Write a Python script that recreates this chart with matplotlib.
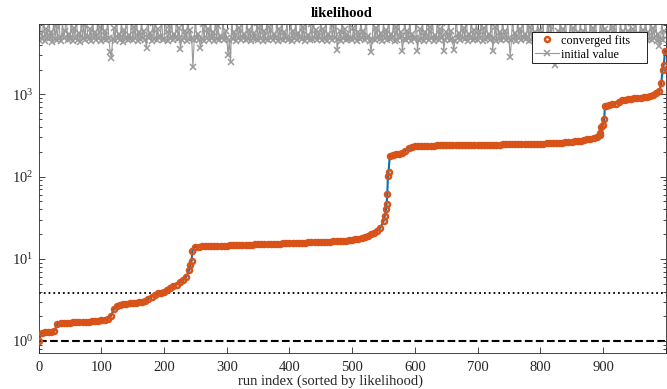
import numpy as np
import matplotlib
matplotlib.use("Agg")
import matplotlib.pyplot as plt
import matplotlib.ticker as ticker
from matplotlib.patches import Rectangle

plt.rcParams["font.family"] = ["Liberation Serif", "DejaVu Serif"]
plt.rcParams["mathtext.fontset"] = "custom"
plt.rcParams["mathtext.rm"] = "Liberation Serif"
plt.rcParams["mathtext.it"] = "Liberation Serif:italic"
plt.rcParams["mathtext.bf"] = "Liberation Serif:bold"

# converged likelihood, read every 5th sorted run, plus extra runs in the jumps
conv_grid_idx = list(range(0, 1000, 5))
converged_grid = [
    1.00, 1.25, 1.27, 1.28, 1.29, 1.32, 1.62, 1.64, 1.65, 1.66,
    1.67, 1.68, 1.69, 1.70, 1.70, 1.71, 1.72, 1.73, 1.75, 1.77,
    1.79, 1.80, 1.84, 2.00, 2.45, 2.65, 2.72, 2.78, 2.83, 2.87,
    2.90, 2.93, 2.96, 3.00, 3.10, 3.25, 3.45, 3.65, 3.80, 3.88,
    3.98, 4.20, 4.45, 4.65, 4.85, 5.20, 5.50, 6.00, 7.30, 12.5,
    14.0, 14.1, 14.15, 14.2, 14.25, 14.3, 14.35, 14.4, 14.45, 14.5,
    14.5, 14.55, 14.6, 14.65, 14.7, 14.75, 14.8, 14.85, 14.9, 14.95,
    15.0, 15.05, 15.1, 15.15, 15.2, 15.25, 15.3, 15.35, 15.4, 15.45,
    15.5, 15.55, 15.6, 15.65, 15.7, 15.75, 15.8, 15.85, 15.9, 15.95,
    16.0, 16.05, 16.1, 16.2, 16.3, 16.4, 16.5, 16.6, 16.7, 16.8,
    16.9, 17.2, 17.6, 18.0, 18.5, 19.0, 19.8, 20.6, 22.0, 24.0,
    28.5, 47.0, 178, 183, 187, 190, 195, 205, 220, 230,
    234, 236, 237, 238, 238, 239, 239, 240, 240, 240,
    241, 241, 241, 242, 242, 242, 243, 243, 243, 244,
    244, 244, 245, 245, 245, 246, 246, 246, 247, 247,
    248, 248, 248, 249, 249, 249, 250, 250, 251, 251,
    252, 253, 254, 255, 256, 257, 258, 259, 261, 263,
    266, 269, 272, 275, 279, 284, 290, 296, 305, 325,
    430, 725, 740, 755, 775, 810, 845, 865, 875, 885,
    893, 900, 908, 920, 935, 955, 985, 1030, 1090, 1990,
]
extra_idx = [242, 244, 552, 554, 556, 557, 558, 896, 897, 902, 903, 993, 997, 999]
extra_val = [8.3, 9.5, 33.0, 40.0, 62.0, 101, 115, 339, 406, 498, 716, 1380, 2300, 3400]

# initial likelihood (in thousands), every 2nd run
init_idx = list(range(0, 1000, 2))
initial_k = [
    4.6, 8.0, 5.5, 4.7, 9.5, 4.5, 6.2, 4.8, 11.0, 4.9, 5.8, 4.4, 8.6, 4.7, 6.8, 4.6, 9.2, 5.0, 4.5, 7.6, 4.8, 6.0, 10.2, 4.6, 5.4,
    4.7, 8.8, 4.5, 6.5, 4.9, 9.8, 4.6, 5.6, 4.4, 8.3, 4.8, 7.0, 4.6, 10.5, 5.1, 4.7, 6.3, 4.5, 9.0, 4.8, 5.7, 4.6, 8.1, 4.9, 6.6,
    4.5, 9.6, 4.7, 5.9, 4.6, 8.4, 4.8, 3.3, 2.8, 4.7, 6.4, 4.5, 9.3, 4.9, 5.5, 4.6, 7.8, 4.4, 6.1, 4.8, 10.8, 4.6, 5.3, 4.7, 8.9,
    4.6, 6.7, 4.8, 9.1, 4.5, 5.8, 4.7, 8.2, 4.9, 6.0, 4.6, 3.7, 11.5, 4.8, 5.6, 4.5, 7.4, 4.7, 9.9, 4.6, 6.2, 4.8, 5.1, 8.7, 4.6,
    4.7, 9.4, 5.7, 4.5, 6.9, 4.8, 8.5, 4.6, 5.4, 4.9, 10.1, 4.7, 6.4, 3.6, 4.6, 8.0, 4.8, 5.9, 4.5, 9.7, 4.7, 6.1, 4.9, 2.15, 4.6,
    8.8, 4.8, 5.5, 4.6, 3.7, 4.7, 7.2, 4.5, 10.6, 4.9, 6.3, 4.6, 8.4, 4.8, 5.7, 4.5, 9.2, 4.7, 6.8, 4.6, 5.2, 4.9, 8.6, 4.6, 6.0,
    4.8, 3.0, 4.6, 2.5, 9.0, 4.7, 5.8, 4.5, 7.9, 4.9, 6.5, 4.6, 11.2, 4.8, 5.4, 4.6, 8.3, 4.7, 6.1, 4.5, 9.6, 4.9, 5.6, 4.7, 7.5,
    4.6, 6.4, 4.8, 9.4, 4.5, 5.9, 4.7, 8.1, 4.6, 6.7, 4.9, 10.3, 4.6, 5.5, 4.8, 8.7, 4.5, 6.2, 4.7, 9.1, 4.6, 5.8, 4.9, 7.7, 4.6,
    4.7, 9.8, 4.5, 6.0, 4.8, 8.4, 4.6, 5.6, 4.9, 11.0, 4.7, 6.6, 4.5, 8.9, 4.8, 5.3, 4.6, 7.3, 4.7, 9.5, 4.9, 6.1, 4.6, 5.7, 4.8,
    8.6, 4.6, 6.3, 4.7, 9.2, 4.5, 5.5, 4.8, 10.4, 4.6, 6.8, 4.9, 8.0, 3.45, 4.7, 5.9, 4.5, 9.7, 4.8, 6.2, 4.6, 5.4, 4.7, 8.5, 4.9,
    4.6, 6.5, 4.8, 9.0, 4.5, 5.7, 4.7, 8.3, 4.9, 6.0, 4.6, 10.9, 4.8, 5.2, 4.5, 3.3, 4.7, 8.8, 4.6, 6.4, 4.9, 9.4, 4.7, 5.6, 4.5,
    7.8, 4.8, 6.1, 4.6, 9.6, 4.7, 5.5, 4.9, 8.2, 4.5, 6.7, 4.6, 10.1, 4.8, 5.8, 3.4, 4.7, 9.3, 4.6, 6.0, 4.9, 8.6, 4.5, 5.4, 4.7,
    4.8, 9.9, 3.4, 4.6, 6.3, 4.7, 8.0, 4.5, 5.7, 4.9, 11.3, 4.6, 6.6, 4.8, 8.9, 4.5, 5.3, 4.7, 9.1, 4.6, 6.2, 4.8, 7.4, 3.4, 4.6,
    5.8, 4.9, 8.5, 4.6, 6.0, 4.7, 3.5, 4.5, 9.7, 4.8, 5.6, 4.6, 8.2, 4.9, 6.5, 4.7, 10.0, 4.5, 5.4, 4.8, 9.0, 4.6, 6.1, 4.7, 7.9,
    4.6, 5.9, 4.8, 9.5, 4.5, 6.4, 4.7, 8.3, 4.9, 5.5, 4.6, 10.7, 3.4, 4.8, 6.7, 4.5, 8.8, 4.7, 5.8, 4.6, 9.2, 4.9, 6.0, 4.6, 7.6,
    4.8, 2.85, 4.6, 9.4, 4.7, 5.6, 4.5, 8.1, 4.9, 6.3, 4.6, 10.2, 4.8, 5.4, 4.7, 8.7, 4.5, 6.6, 4.6, 9.0, 4.8, 5.7, 4.9, 7.8, 4.6,
    6.1, 4.7, 9.6, 4.5, 5.5, 4.8, 8.4, 4.6, 6.8, 4.9, 10.5, 4.7, 2.27, 4.6, 5.9, 4.8, 8.9, 4.5, 6.2, 4.7, 9.3, 4.6, 5.3, 4.9, 7.7,
    4.6, 6.4, 4.8, 9.8, 4.5, 5.8, 4.7, 8.2, 4.6, 6.0, 4.9, 10.8, 4.6, 5.6, 4.8, 8.6, 4.5, 6.5, 4.7, 9.1, 4.6, 5.4, 4.9, 8.0, 4.7,
    9.5, 4.6, 6.2, 4.8, 5.7, 4.5, 8.8, 4.7, 6.6, 4.9, 11.1, 4.6, 5.5, 4.8, 8.3, 4.6, 6.0, 4.7, 9.7, 4.5, 5.9, 4.8, 7.5, 4.6, 6.3,
    4.9, 9.2, 4.6, 5.6, 4.7, 8.5, 4.5, 6.1, 4.8, 10.4, 4.6, 5.8, 4.7, 8.9, 4.6, 6.4, 4.9, 9.0, 4.5, 5.5, 3.9, 4.7, 8.1, 4.6, 6.0,
]

chi2_level = 3.84
best_level = 1.0

blue = "#0072BD"
orange = "#D95319"
grey = "#999999"

conv_idx = np.array(conv_grid_idx + extra_idx)
conv_val = np.array(converged_grid + extra_val)
order = np.argsort(conv_idx, kind="stable")
conv_idx = conv_idx[order]
conv_val = conv_val[order]
initial = np.array(initial_k) * 1000

fig = plt.figure(figsize=(6.67, 3.89), dpi=100)
ax = fig.add_axes([0.058, 0.0933, 0.94, 0.845])

ax.axhline(best_level, color="black", linestyle="--", linewidth=1.5, zorder=1)
ax.axhline(chi2_level, color="black", linestyle=":", linewidth=1.3, zorder=1)

ax.plot(init_idx, initial, "-x", color=grey, linewidth=0.8,
        markersize=3.8, markeredgewidth=1.1, label="initial value", zorder=2)
ax.plot(conv_idx, conv_val, "-", color=blue, linewidth=1.5, zorder=3)
ax.plot(conv_idx, conv_val, "o", color=orange, markerfacecolor="none",
        markersize=3.6, markeredgewidth=1.8, label="converged fits", zorder=4)

ax.set_yscale("log")
ax.set_xlim(0, 1000)
ax.set_ylim(0.72, 7200)

ax.xaxis.set_major_locator(ticker.MultipleLocator(100))
ax.xaxis.set_major_formatter(ticker.FuncFormatter(
    lambda v, p: "" if v >= 1000 else f"{int(v)}"))
ax.yaxis.set_major_locator(ticker.LogLocator(base=10, numticks=10))
ax.yaxis.set_minor_locator(ticker.LogLocator(base=10, subs=np.arange(2, 10), numticks=10))
ax.yaxis.set_minor_formatter(ticker.NullFormatter())

axcol = "#262626"
for s in ax.spines.values():
    s.set_color(axcol)
    s.set_linewidth(0.6)
ax.tick_params(which="both", direction="in", top=True, right=True,
               colors=axcol, labelsize=10.5, width=0.6)
ax.tick_params(axis="x", pad=6)
ax.tick_params(axis="y", pad=4)
ax.tick_params(which="major", length=4)
ax.tick_params(which="minor", length=2.5)

ax.set_title("likelihood", fontsize=10.5, fontweight="bold", pad=5, x=0.484)
ax.set_xlabel("run index (sorted by likelihood)", fontsize=10.5, color=axcol,
              labelpad=0, x=0.465)

# legend box (MATLAB style, wide on the right)
box_x0, box_x1 = 0.7863, 0.9697
box_y0, box_y1 = 0.8804, 0.9766
ax.add_patch(Rectangle((box_x0, box_y0), box_x1 - box_x0, box_y1 - box_y0,
                       transform=ax.transAxes, facecolor="white",
                       edgecolor="black", linewidth=0.6, zorder=5))
handles, labels = ax.get_legend_handles_labels()
leg = ax.legend([handles[1], handles[0]], [labels[1], labels[0]],
                loc="upper left", bbox_to_anchor=(box_x0, box_y1),
                borderaxespad=0, fontsize=8.7, frameon=False,
                handlelength=2.0, handletextpad=0.15,
                borderpad=0.25, labelspacing=0.15)
leg.set_zorder(6)

fig.savefig("out.png", dpi=100)
plt.close(fig)
